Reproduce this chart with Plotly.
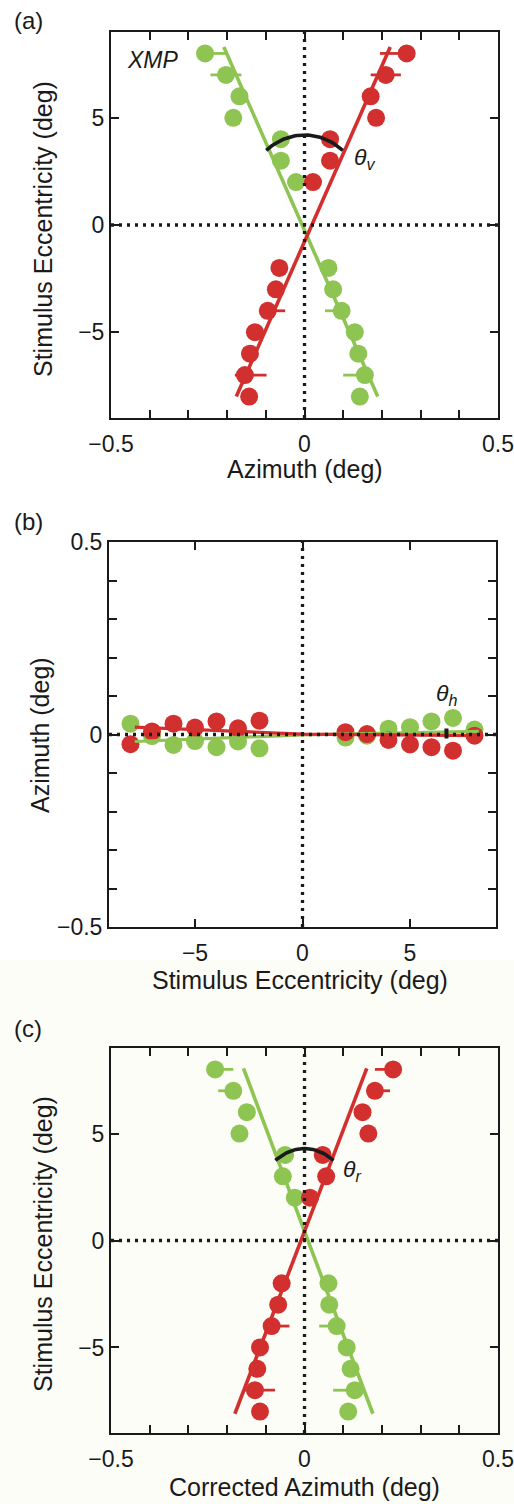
import numpy as np
import plotly.graph_objects as go

W, H = 514, 1504
RED = "#d1302f"
GREEN = "#8dc452"
INK = "#1a1a1a"
FONT = "Liberation Sans, Arial, Helvetica, sans-serif"

# Stimulus eccentricities (deg), lower field then upper field
ecc = [-8, -7, -6, -5, -4, -3, -2, 2, 3, 4, 5, 6, 7, 8]

# (a) raw azimuth of the two eyes' settings
az_red_a = [-0.143, -0.154, -0.141, -0.128, -0.095, -0.074, -0.065,
            0.022, 0.066, 0.066, 0.185, 0.171, 0.210, 0.264]
az_green_a = [0.143, 0.156, 0.139, 0.130, 0.096, 0.074, 0.062,
              -0.022, -0.061, -0.061, -0.184, -0.168, -0.203, -0.257]
err_red_a_plus = [0, 0.056, 0, 0, 0.045, 0, 0, 0, 0, 0, 0, 0, 0.039, 0]
err_red_a_minus = [0, 0.026, 0, 0, 0, 0, 0, 0, 0, 0, 0, 0, 0.039, 0.069]
err_green_a_plus = [0, 0.020, 0, 0, 0, 0, 0, 0, 0, 0, 0, 0, 0.040, 0.056]
err_green_a_minus = [0, 0.056, 0, 0, 0.043, 0, 0, 0, 0, 0, 0, 0, 0.040, 0]

# (a) linear fits: azimuth = intercept + slope * eccentricity
fit_red_a = [0.019, 0.0244]
fit_green_a = [-0.006, -0.0244]
fit_span_a = [-8.0, 8.3]

# (b) azimuth along the horizontal meridian
az_red_b = [-0.025, 0.008, 0.028, 0.018, 0.034, 0.016, 0.036,
            0.006, 0.001, -0.014, -0.026, -0.033, -0.042, -0.003]
az_green_b = [0.028, -0.004, -0.027, -0.017, -0.033, -0.018, -0.036,
              -0.008, -0.003, 0.015, 0.019, 0.034, 0.043, 0.013]
# (b) fits per hemifield: [intercept, slope left, slope right]
fit_red_b = [0.001, -0.0023, -0.0005]
fit_green_b = [-0.001, 0.0022, 0.0011]
fit_span_b = [-7.8, 8.2]

# (c) azimuth after torsion correction
az_red_c = [-0.115, -0.128, -0.122, -0.115, -0.085, -0.068, -0.059,
            0.014, 0.056, 0.047, 0.165, 0.150, 0.182, 0.229]
az_green_c = [0.113, 0.130, 0.119, 0.109, 0.083, 0.064, 0.062,
              -0.025, -0.056, -0.050, -0.168, -0.149, -0.184, -0.231]
err_red_c_plus = [0, 0.052, 0, 0, 0.046, 0, 0, 0, 0, 0, 0, 0, 0.039, 0]
err_red_c_minus = [0, 0.030, 0, 0, 0, 0, 0, 0, 0, 0, 0, 0, 0.020, 0.047]
err_green_c_plus = [0, 0.026, 0, 0, 0, 0, 0, 0, 0, 0, 0, 0, 0.020, 0.047]
err_green_c_minus = [0, 0.056, 0, 0, 0.045, 0, 0, 0, 0, 0, 0, 0, 0.039, 0]
fit_red_c = [-0.009, 0.0211]
fit_green_c = [0.009, -0.0207]
fit_span_c = [-8.1, 8.05]

# angle arcs (ellipse semi-axes in data units, angular extent in degrees)
arc_a = dict(ax=0.177, ay=4.2, start=56, stop=124)
arc_c = dict(ax=0.153, ay=4.3, start=60.6, stop=119.4)
arc_b = dict(rx=6.7, ry=0.3716, start=-1.6, stop=2.4)

# azimuth axes: a tick every 0.1 deg, labelled at -0.5, 0 and 0.5
az_ticks = [-0.5, -0.4, -0.3, -0.2, -0.1, 0, 0.1, 0.2, 0.3, 0.4, 0.5]
az_labels = ["\u22120.5", "", "", "", "", "0", "", "", "", "", "0.5"]
ecc_ticks = [-5, 0, 5]
ecc_labels = ["\u22125", "0", "5"]


def px_dom_x(left, right):
    return [left / W, right / W]


def px_dom_y(top, bottom):
    return [1 - bottom / H, 1 - top / H]


def frame(**kw):
    d = dict(showline=True, linecolor=INK, linewidth=2, mirror="ticks",
             ticks="inside", ticklen=8, tickwidth=2.2, tickcolor=INK,
             showgrid=False, zeroline=False, fixedrange=True, automargin=False,
             tickfont=dict(family=FONT, size=23, color=INK))
    d.update(kw)
    return d


fig = go.Figure()


def dots(x, y, color, xa, ya, ex=None):
    kw = {}
    if ex is not None:
        kw["error_x"] = dict(type="data", symmetric=False, array=ex[0], arrayminus=ex[1],
                             color=color, thickness=2.8, width=0)
    fig.add_trace(go.Scatter(x=x, y=y, mode="markers", xaxis=xa, yaxis=ya,
                             marker=dict(size=18, color=color, line=dict(width=0)),
                             showlegend=False, hoverinfo="skip", **kw))


def line(x, y, color, xa, ya, width=3.6):
    fig.add_trace(go.Scatter(x=x, y=y, mode="lines", xaxis=xa, yaxis=ya,
                             line=dict(color=color, width=width),
                             showlegend=False, hoverinfo="skip"))


# ---- panel (a)
dots(az_green_a, ecc, GREEN, "x", "y", (err_green_a_plus, err_green_a_minus))
dots(az_red_a, ecc, RED, "x", "y", (err_red_a_plus, err_red_a_minus))
ys = np.array(fit_span_a)
line(fit_green_a[0] + fit_green_a[1] * ys, ys, GREEN, "x", "y")
line(fit_red_a[0] + fit_red_a[1] * ys, ys, RED, "x", "y")
phi = np.radians(np.linspace(arc_a["start"], arc_a["stop"], 40))
line(arc_a["ax"] * np.cos(phi), arc_a["ay"] * np.sin(phi), INK, "x", "y", 3.6)

# ---- panel (b)
dots(ecc, az_green_b, GREEN, "x2", "y2")
dots(ecc, az_red_b, RED, "x2", "y2")
for fit, color in ((fit_green_b, GREEN), (fit_red_b, RED)):
    xl = np.array([fit_span_b[0], 0.0])
    xr = np.array([0.0, fit_span_b[1]])
    line(np.concatenate([xl, xr[1:]]),
         np.concatenate([fit[0] + fit[1] * xl, (fit[0] + fit[2] * xr)[1:]]),
         color, "x2", "y2", 3.2)
phi = np.radians(np.linspace(arc_b["start"], arc_b["stop"], 20))
line(arc_b["rx"] * np.cos(phi), arc_b["ry"] * np.sin(phi), INK, "x2", "y2", 4)

# ---- panel (c)
dots(az_green_c, ecc, GREEN, "x3", "y3", (err_green_c_plus, err_green_c_minus))
dots(az_red_c, ecc, RED, "x3", "y3", (err_red_c_plus, err_red_c_minus))
ys = np.array(fit_span_c)
line(fit_green_c[0] + fit_green_c[1] * ys, ys, GREEN, "x3", "y3")
line(fit_red_c[0] + fit_red_c[1] * ys, ys, RED, "x3", "y3")
phi = np.radians(np.linspace(arc_c["start"], arc_c["stop"], 40))
line(arc_c["ax"] * np.cos(phi), arc_c["ay"] * np.sin(phi), INK, "x3", "y3", 3.6)

# dotted reference lines through zero
dotted = dict(color=INK, width=3.3, dash="3px,5px")
shapes = [
    dict(type="rect", xref="paper", yref="paper", x0=0, x1=1, y0=0, y1=1 - 960 / H,
         fillcolor="#fdfdf8", line=dict(width=0), layer="below"),
]
for xa, ya in (("x", "y"), ("x2", "y2"), ("x3", "y3")):
    shapes.append(dict(type="line", xref=xa, yref=ya + " domain", x0=0, x1=0, y0=0, y1=1,
                       line=dotted, layer="above"))
    shapes.append(dict(type="line", xref=xa + " domain", yref=ya, x0=0, x1=1, y0=0, y1=0,
                       line=dotted, layer="above"))

fig.update_layout(
    template="none",
    width=W, height=H, autosize=False,
    margin=dict(l=0, r=0, t=0, b=0, pad=0),
    paper_bgcolor="white", plot_bgcolor="rgba(0,0,0,0)",
    font=dict(family=FONT, color=INK),
    shapes=shapes,
    xaxis=frame(domain=px_dom_x(111, 498), anchor="y", range=[-0.5, 0.5],
                tickvals=az_ticks, ticktext=az_labels, ticklabelstandoff=4),
    yaxis=frame(domain=px_dom_y(32, 418), anchor="x", range=[-9, 9],
                tickvals=ecc_ticks, ticktext=ecc_labels),
    xaxis2=frame(domain=px_dom_x(109, 496), anchor="y2", range=[-9, 9],
                 tickvals=ecc_ticks, ticktext=ecc_labels, ticklabelstandoff=4),
    yaxis2=frame(domain=px_dom_y(542, 927), anchor="x2", range=[-0.5, 0.5],
                 tickvals=az_ticks, ticktext=az_labels),
    xaxis3=frame(domain=px_dom_x(111, 498), anchor="y3", range=[-0.5, 0.5],
                 tickvals=az_ticks, ticktext=az_labels, ticklabelstandoff=4),
    yaxis3=frame(domain=px_dom_y(1048, 1433), anchor="x3", range=[-9, 9],
                 tickvals=ecc_ticks, ticktext=ecc_labels),
)


def note(text, x, y, size=25, xanchor="center", angle=0, xref="paper", yref="paper"):
    if xref == "paper":
        x = x / W
    if yref == "paper":
        y = 1 - y / H
    fig.add_annotation(text=text, x=x, y=y, xref=xref, yref=yref, showarrow=False,
                       xanchor=xanchor, yanchor="middle", textangle=angle,
                       font=dict(family=FONT, size=size, color=INK))


# panel letters
note("(a)", 12, 20, 24, "left")
note("(b)", 12, 522, 24, "left")
note("(c)", 12, 1028, 24, "left")

# axis titles
note("Azimuth (deg)", 304.5, 469)
note("Stimulus Eccentricity (deg)", 43, 229, angle=-90)
note("Stimulus Eccentricity (deg)", 300, 980)
note("Azimuth (deg)", 40, 735, angle=-90)
note("Corrected Azimuth (deg)", 304.5, 1487)
note("Stimulus Eccentricity (deg)", 43, 1244, angle=-90)

# in-plot labels
note("<i>XMP</i>", -0.464, 7.7, 23, "left", xref="x", yref="y")
note("<i>\u03b8</i><sub><i>v</i></sub>", 0.122, 3.1, 23, "left", xref="x", yref="y")
note("<i>\u03b8</i><sub><i>h</i></sub>", 6.1, 0.105, 23, "left", xref="x2", yref="y2")
note("<i>\u03b8</i><sub><i>r</i></sub>", 0.094, 3.25, 23, "left", xref="x3", yref="y3")

fig.write_html("out.html")
